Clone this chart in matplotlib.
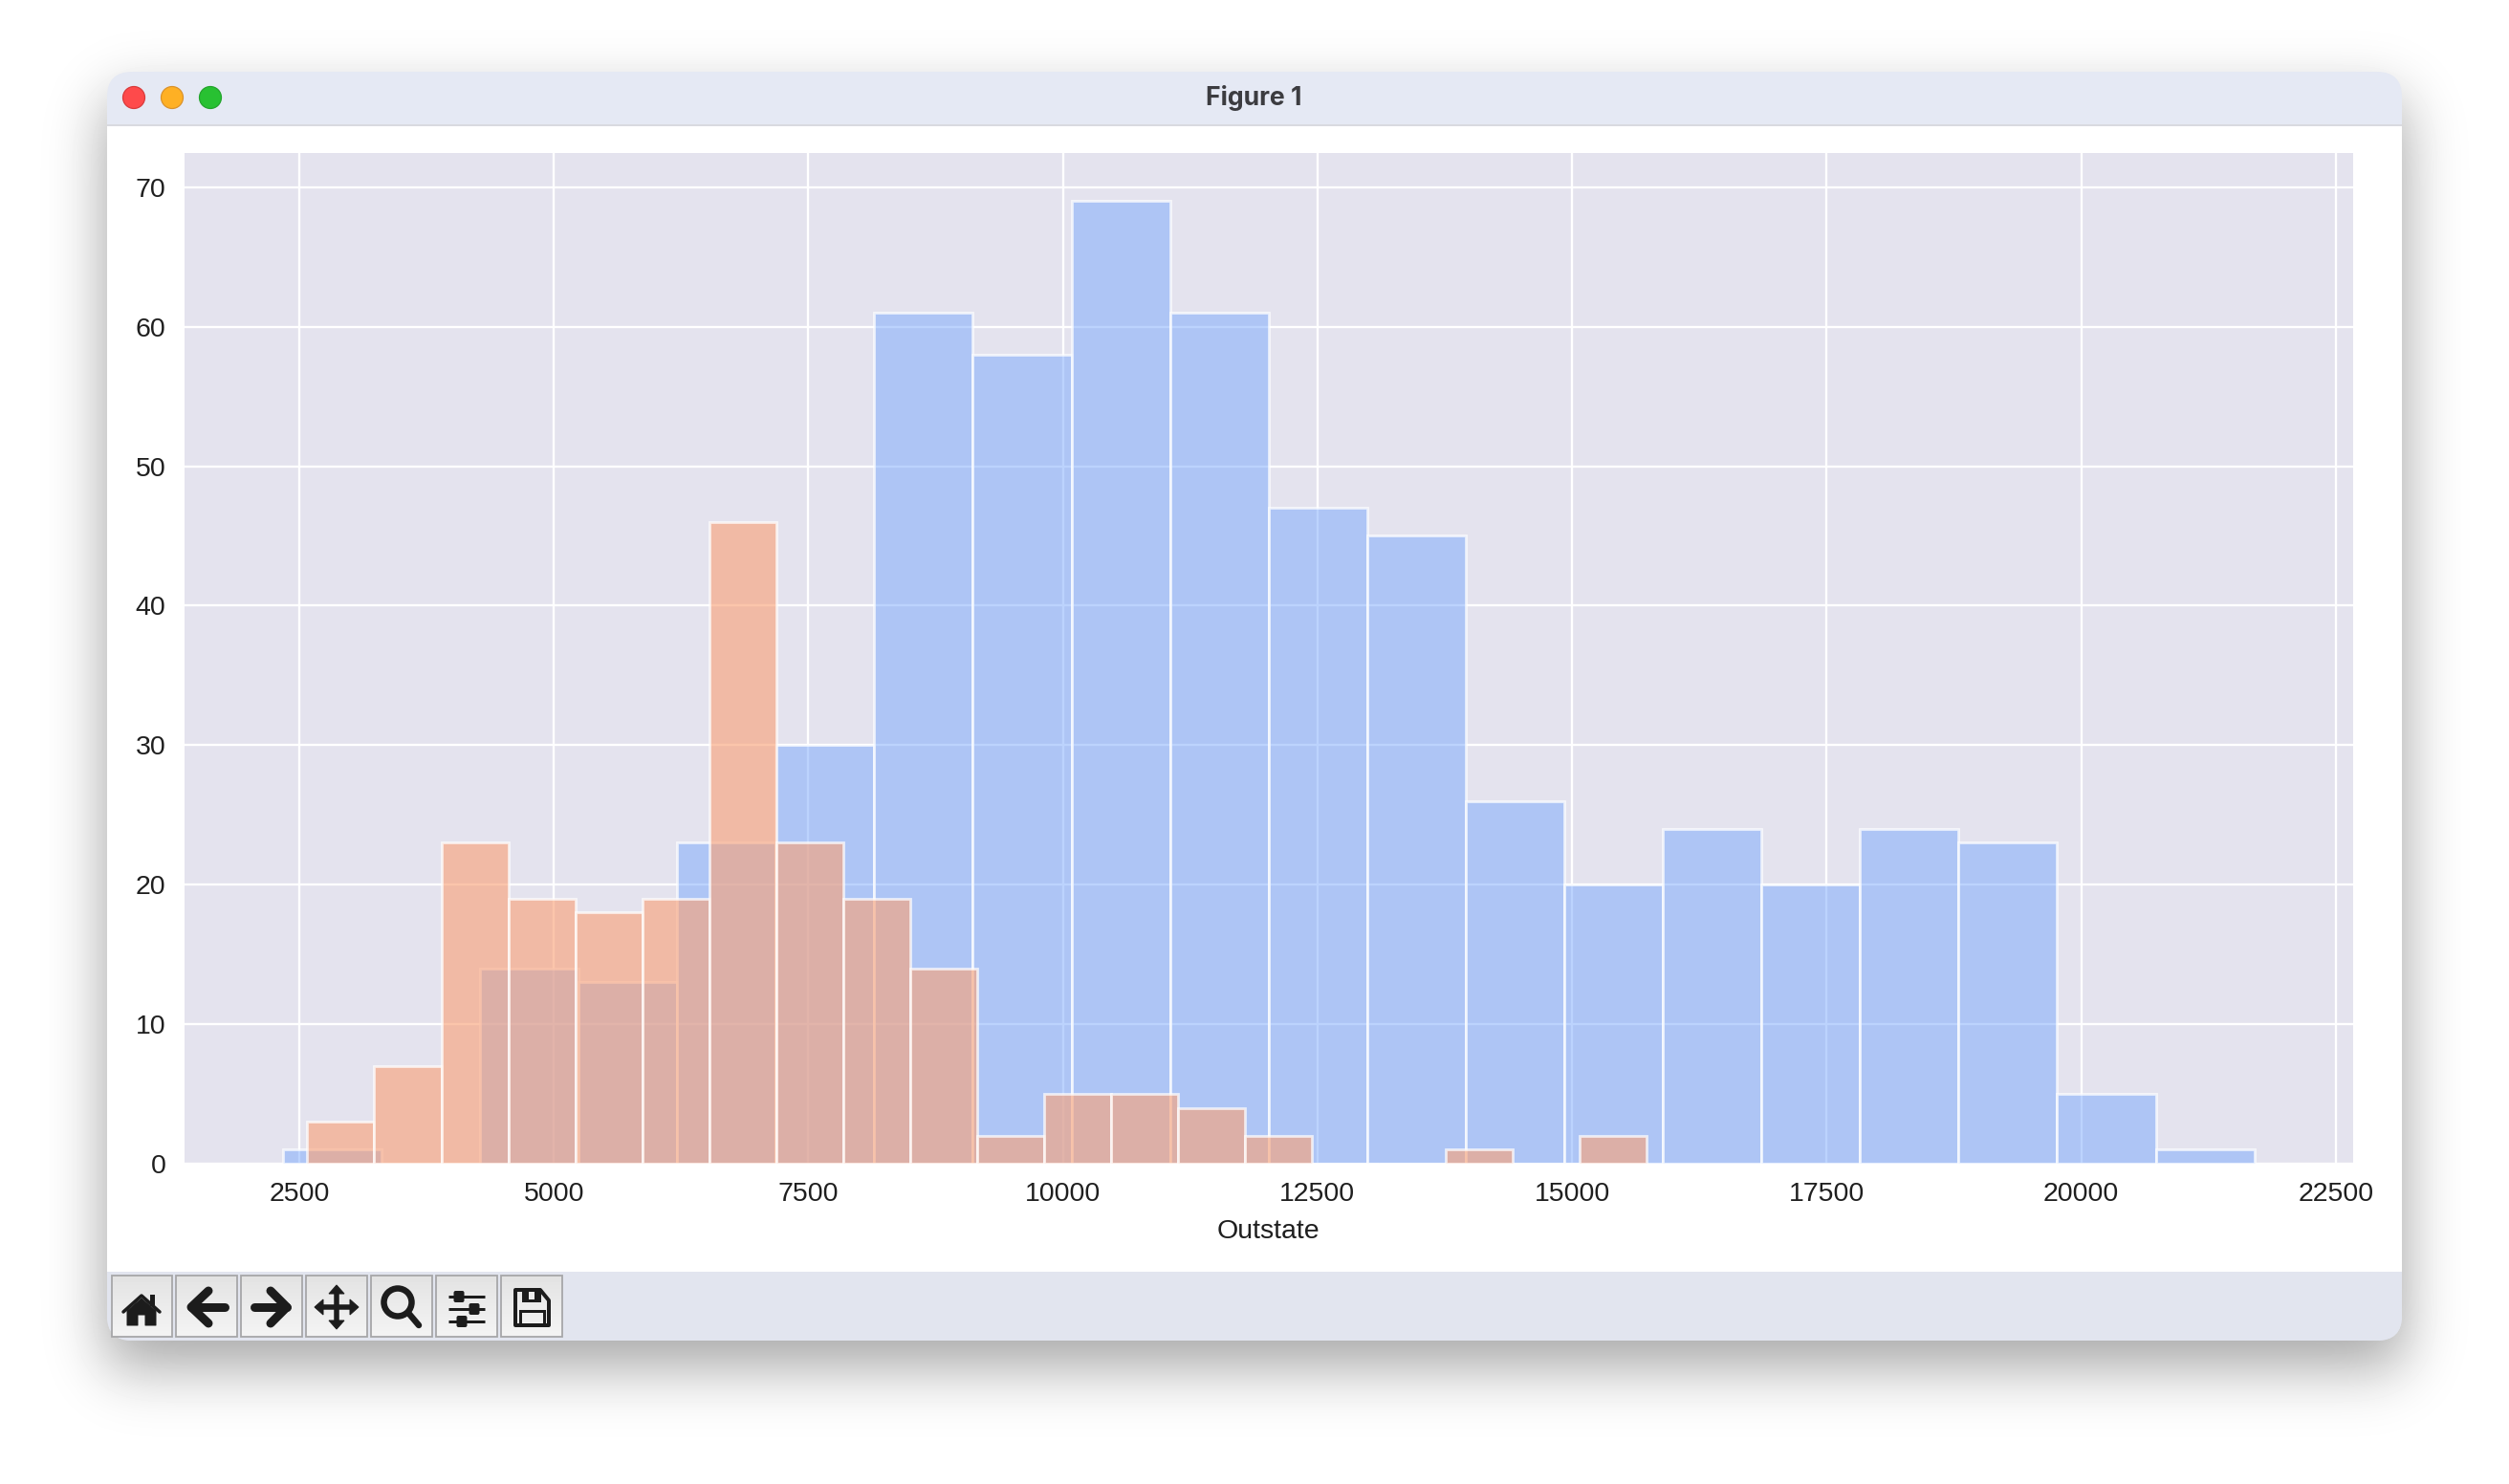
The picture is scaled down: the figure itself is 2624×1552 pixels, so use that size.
import math
import numpy as np
import matplotlib
matplotlib.use('Agg')
import matplotlib.pyplot as plt
from matplotlib.patches import Circle, FancyBboxPatch, Polygon, Rectangle

# DATA: Outstate tuition histograms, Private = Yes / No
private_counts = [1, 0, 14, 13, 23, 30, 61, 58, 69, 61, 47, 45, 26, 20, 24, 20, 24, 23, 5, 1]
public_counts = [3, 7, 23, 19, 18, 19, 46, 23, 19, 14, 2, 5, 5, 4, 2, 0, 0, 1, 0, 2]
private_range = (2340, 21700)
public_range = (2580, 15732)
x_ticks = [2500, 5000, 7500, 10000, 12500, 15000, 17500, 20000, 22500]
y_ticks = [0, 10, 20, 30, 40, 50, 60, 70]
x_label = 'Outstate'
window_title = 'Figure 1'

W, H = 2624, 1552
DPI = 200
plt.rcParams['font.family'] = ['Liberation Sans', 'DejaVu Sans']

fig = plt.figure(figsize=(W / DPI, H / DPI), dpi=DPI, facecolor='white')

# window chrome lives on a full-figure axes in pixel coordinates
bg = fig.add_axes([0, 0, 1, 1], zorder=0)
bg.set_xlim(0, W)
bg.set_ylim(H, 0)
bg.axis('off')

win_l, win_t, win_r, win_b = 112, 75, 2512, 1402


def px(v):
    return v * 72 / DPI


# drop shadow
erf = np.vectorize(math.erf)
xx = np.arange(W)
yy = np.arange(H)
sx = 0.5 * (erf((xx - win_l + 2) / 42) - erf((xx - win_r - 2) / 42))
sy = 0.5 * (erf((yy - win_t - 30) / 46) - erf((yy - win_b - 26) / 46))
shadow = 1 - 0.36 * np.outer(sy, sx)
bg.imshow(shadow, cmap='gray', vmin=0, vmax=1, extent=(0, W, H, 0), aspect='auto', zorder=0)
bg.set_xlim(0, W)
bg.set_ylim(H, 0)

bg.add_patch(FancyBboxPatch((win_l + 26, win_t + 26), win_r - win_l - 52, win_b - win_t - 52,
                            boxstyle='round,pad=26,rounding_size=26', fc='#e5e9f4', ec='none', zorder=1))
bg.add_patch(Rectangle((win_l, 131), win_r - win_l, 1199, fc='white', ec='none', zorder=2))
bg.add_patch(Rectangle((win_l, 130), win_r - win_l, 2, fc='#d9dae0', ec='none', zorder=3))
toolbar = FancyBboxPatch((win_l + 26, 1330), win_r - win_l - 52, win_b - 1330 - 26,
                         boxstyle='round,pad=26,rounding_size=26', fc='#e2e5ef', ec='none', zorder=1.5)
bg.add_patch(toolbar)
bg.add_patch(Rectangle((win_l, 1330), win_r - win_l, 30, fc='#e2e5ef', ec='none', zorder=2))

for cx, face, edge in [(140, '#fe4a4b', '#d8393a'), (180, '#feb024', '#d9912a'), (220, '#28c132', '#22a32b')]:
    bg.add_patch(Circle((cx, 102), 11.5, fc=face, ec=edge, lw=px(1.2), zorder=4))
bg.text(1311, 103, window_title, ha='center', va='center', fontsize=9.6, fontweight='bold',
        family=['Inter', 'DejaVu Sans'], color='#3c3c40', zorder=4)

# toolbar buttons
ink = '#1c1c1c'
btn_lefts = [116.5, 184, 252, 320, 388, 456, 524]
for left in btn_lefts:
    grad = np.linspace(0.888, 0.955, 64).reshape(-1, 1)
    bg.imshow(grad, cmap='gray', vmin=0, vmax=1, extent=(left, left + 63.5, 1398, 1334), aspect='auto', zorder=5)
    bg.add_patch(Rectangle((left, 1334), 63.5, 64, fc='none', ec='#a6a6a8', lw=px(1.8), zorder=6))
bg.set_xlim(0, W)
bg.set_ylim(H, 0)


def stroke(xs, ys, width=8.5, cap='round'):
    bg.plot(xs, ys, color=ink, lw=px(width), solid_capstyle=cap, solid_joinstyle='round', zorder=7)


# home
bg.add_patch(Polygon([(133, 1371), (148, 1358), (163, 1371), (163, 1386), (152, 1386), (152, 1375), (144, 1375),
                      (144, 1386), (133, 1386)], fc=ink, ec=ink, lw=px(1), joinstyle='round', zorder=7))
stroke([129, 148, 167], [1372, 1355, 1372], width=3.5)
bg.add_patch(Rectangle((157, 1354), 5, 12, fc=ink, ec='none', zorder=7))
# back / forward
stroke([200, 235], [1367, 1367], width=9)
stroke([218, 200, 218], [1350, 1367, 1384], width=9)
stroke([300, 266], [1367, 1367], width=9)
stroke([283, 300, 283], [1350, 1367, 1384], width=9)
# move
stroke([352, 352], [1350, 1384], width=5.5, cap='butt')
stroke([334, 370], [1367, 1367], width=5.5, cap='butt')
for tri in [[(352, 1344), (344, 1353), (360, 1353)], [(352, 1390), (344, 1381), (360, 1381)],
            [(329, 1367), (338, 1359), (338, 1375)], [(375, 1367), (366, 1359), (366, 1375)]]:
    bg.add_patch(Polygon(tri, fc=ink, ec=ink, lw=px(1), zorder=7))
# zoom
bg.add_patch(Circle((416, 1362), 14.5, fc='none', ec=ink, lw=px(6.5), zorder=7))
stroke([427, 438], [1373, 1386], width=6.5)
# sliders
for y, knob in [(1356, 480), (1369, 496), (1382, 483)]:
    stroke([469, 507], [y, y], width=3, cap='butt')
    bg.add_patch(FancyBboxPatch((knob - 3.5, y - 4), 7, 8, boxstyle='round,pad=2,rounding_size=2',
                                fc=ink, ec='none', zorder=8))
# save
bg.add_patch(Polygon([(539, 1349), (565, 1349), (574, 1360), (574, 1386), (539, 1386)], closed=True,
                     fc='none', ec=ink, lw=px(4), joinstyle='round', zorder=7))
bg.add_patch(Rectangle((546, 1349), 20, 13, fc=ink, ec='none', zorder=7))
bg.add_patch(Rectangle((553, 1351), 6, 8, fc='#eeeeee', ec='none', zorder=8))
bg.add_patch(Rectangle((544, 1371), 25, 14, fc='none', ec=ink, lw=px(3), zorder=7))

# the chart itself
ax = fig.add_axes([192.8 / W, 1 - 1217 / H, (2460.8 - 192.8) / W, (1217 - 160) / H], zorder=1)
ax.set_facecolor('#e4e3ee')
for side in ax.spines.values():
    side.set_visible(False)
ax.set_axisbelow(True)
ax.grid(True, color='white', lw=px(2.3))

# private first, public drawn over it
for counts, (lo, hi), face in [(private_counts, private_range, (0.478, 0.663, 0.988, 0.5)),
                               (public_counts, public_range, (0.98, 0.635, 0.47, 0.62))]:
    edges = np.linspace(lo, hi, len(counts) + 1)
    ax.bar(edges[:-1], counts, width=np.diff(edges), align='edge', color=face,
           edgecolor=(1, 1, 1, 0.72), linewidth=px(2.8))

ax.set_xlim(1372, 22669)
ax.set_ylim(0, 72.45)
ax.set_xticks(x_ticks)
ax.set_yticks(y_ticks)
ax.tick_params(length=0, pad=7, labelsize=10.25, labelcolor='#1f1f1f')
ax.set_xlabel(x_label, fontsize=10.25, color='#1f1f1f', labelpad=4.4)

fig.savefig('out.png', dpi=DPI)
